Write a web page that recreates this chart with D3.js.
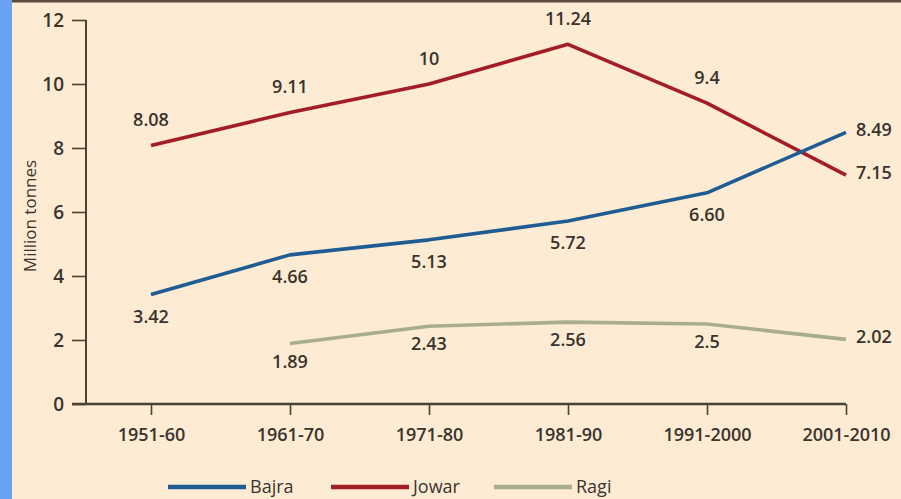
<!DOCTYPE html>
<html><head><meta charset="utf-8">
<script src="https://cdn.jsdelivr.net/npm/d3@7"></script>
<style>
html,body{margin:0;padding:0;background:#fdebd3;}
svg{display:block;}
text{font-family:"Open Sans",sans-serif;fill:#3a342e;}
</style></head>
<body>
<script>
const categories = ["1951-60","1961-70","1971-80","1981-90","1991-2000","2001-2010"];
const bajra = [3.42, 4.66, 5.13, 5.72, 6.60, 8.49];
const bajraLabels = ["3.42","4.66","5.13","5.72","6.60","8.49"];
const jowar = [8.08, 9.11, 10, 11.24, 9.4, 7.15];
const jowarLabels = ["8.08","9.11","10","11.24","9.4","7.15"];
const ragi = [null, 1.89, 2.43, 2.56, 2.5, 2.02];
const ragiLabels = ["", "1.89","2.43","2.56","2.5","2.02"];
const yTicks = [0, 2, 4, 6, 8, 10, 12];
const seriesNames = ["Bajra", "Jowar", "Ragi"];
const colors = ["#1f5c94", "#a31d27", "#a8ae8d"];

const W = 901, H = 499;
const svg = d3.select("body").append("svg").attr("width", W).attr("height", H);

// background + left strip + top border
svg.append("rect").attr("x",0).attr("y",0).attr("width",W).attr("height",H).attr("fill","#fdebd3");
svg.append("rect").attr("x",0).attr("y",0).attr("width",12).attr("height",H).attr("fill","#6aa2f2");
svg.append("rect").attr("x",12).attr("y",0).attr("width",W-12).attr("height",2.5).attr("fill","#5b4d3c");

const x = d3.scalePoint().domain(categories).range([151, 846]);
const y = d3.scaleLinear().domain([0, 12]).range([404, 20]);

const axisColor = "#4a4034";

// Y axis
const yAxis = svg.append("g").attr("transform","translate(86,0)")
  .call(d3.axisLeft(y).tickValues(yTicks).tickSize(14).tickPadding(8));
yAxis.select(".domain").attr("stroke",axisColor).attr("stroke-width",2)
  .attr("d", `M0,${y(0)}V${y(12)}`);
yAxis.selectAll(".tick line").attr("stroke",axisColor).attr("stroke-width",1.6);
yAxis.selectAll(".tick text").attr("font-size",19).attr("font-weight",600)
  .attr("font-family","'Open Sans',sans-serif").attr("fill","#3a342e");

// X axis
const xAxis = svg.append("g").attr("transform",`translate(0,${y(0)})`)
  .call(d3.axisBottom(x).tickSize(11).tickPadding(13));
xAxis.select(".domain").attr("stroke",axisColor).attr("stroke-width",2.4)
  .attr("d", `M72,0H${x(categories[categories.length-1])}`);
xAxis.selectAll(".tick line").attr("stroke",axisColor).attr("stroke-width",1.6);
xAxis.selectAll(".tick text").attr("font-size",18).attr("font-weight",600)
  .attr("font-family","'Open Sans',sans-serif").attr("fill","#3a342e");

// Y title
svg.append("text").attr("transform","translate(29,216) rotate(-90)")
  .attr("text-anchor","middle").attr("dominant-baseline","central")
  .attr("font-size",17).attr("font-weight",500).text("Million tonnes");

const line = d3.line().defined(d => d != null)
  .x((d,i) => x(categories[i])).y(d => y(d));

const series = [
  {name:"Jowar", vals:jowar, labels:jowarLabels, color:colors[1], dy:-26},
  {name:"Bajra", vals:bajra, labels:bajraLabels, color:colors[0], dy:21},
  {name:"Ragi", vals:ragi, labels:ragiLabels, color:colors[2], dy:17}
];

series.forEach(s => {
  svg.append("path").datum(s.vals).attr("fill","none")
    .attr("stroke",s.color).attr("stroke-width",3.6)
    .attr("stroke-linejoin","round").attr("d", line);
});

series.forEach(s => {
  s.vals.forEach((v,i) => {
    if (v == null) return;
    const last = i === s.vals.length - 1;
    svg.append("text")
      .attr("x", x(categories[i]) + (last ? 10 : 0))
      .attr("y", y(v) + (last ? -3 : s.dy))
      .attr("text-anchor", last ? "start" : "middle")
      .attr("dominant-baseline","central")
      .attr("font-size",18).attr("font-weight",600)
      .text(s.labels[i]);
  });
});

// Legend
const legend = svg.append("g").attr("transform","translate(168,487)");
seriesNames.forEach((n,i) => {
  const g = legend.append("g").attr("transform",`translate(${i*163},0)`);
  g.append("line").attr("x1",0).attr("x2",78).attr("y1",0).attr("y2",0)
    .attr("stroke",colors[i]).attr("stroke-width",4.5);
  g.append("text").attr("x",82).attr("y",6).attr("font-size",18)
    .attr("font-weight",500).text(n);
});
</script>
</body></html>
